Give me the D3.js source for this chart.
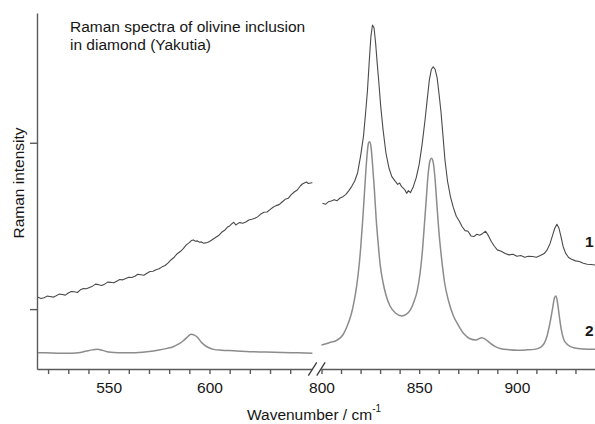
<!DOCTYPE html>
<html>
<head>
<meta charset="utf-8">
<script src="https://cdn.jsdelivr.net/npm/d3@7"></script>
<style>
  body { margin: 0; background: #fff; }
  svg text { font-family: Arial, "Liberation Sans", sans-serif; fill: #161616; }
  .axis path, .axis line { stroke: #5a5a5a; stroke-width: 1.4; }
  .axis text { font-size: 15.5px; }
</style>
</head>
<body>
<svg id="chart"></svg>
<script>
// spectrum 1 (upper, noisy) - low wavenumber part
const spec1LowWn = [515,516.5,518,519.5,521,522.5,524,525.5,527,528.5,530,531.5,533,534.5,536,537.5,539,540.5,542,543.5,545,546.5,548,549.5,551,552.5,554,555.5,557,558.5,560,561.5,563,564.5,566,567.5,569,570.5,572,573.5,575,576.5,578,579.5,581,582.5,584,585.5,587,588.5,590,591,592,593,594,595,596,597,598,599,600,601.5,603,604.5,606,607.5,609,610,611,612,613,614,615,616.5,618,619.5,621,622.5,624,625.5,627,628.5,630,631.5,633,634.5,636,637.5,639,640.5,642,643.5,645,646,647,648,649,650,651];
const spec1LowI = [1071,1064,1068,1078,1076,1072,1080,1090,1088,1084,1097,1106,1104,1100,1116,1124,1122,1130,1138,1150,1147,1142,1150,1162,1161,1158,1168,1178,1176,1184,1192,1190,1198,1210,1207,1204,1216,1226,1228,1236,1243,1254,1262,1278,1297,1312,1333,1346,1364,1386,1400,1412,1416,1408,1410,1402,1404,1396,1398,1400,1406,1418,1430,1442,1462,1474,1494,1500,1512,1522,1506,1514,1520,1516,1524,1536,1540,1546,1556,1572,1582,1584,1598,1612,1622,1628,1644,1660,1666,1688,1704,1716,1740,1752,1758,1764,1755,1758,1760];

// spectrum 1 - high wavenumber part
const spec1HighWn = [800.5,802,803.5,805,806.5,808,809.5,811,812.5,814,815.5,817,818.5,820,821.5,822.5,823.5,824.5,825.3,826.1,826.9,827.7,828.5,829.3,830.3,831.5,833,834.5,836,837.5,839,840,841,842.5,843.6,844.5,845.5,847,848.5,850,851.5,853,854.2,855.2,856.2,857.2,858.2,859.2,860.2,861.2,862.2,863.2,864.5,866,867.5,869,870.5,872,873.5,875,876.5,878,879.5,881,882.5,884,885.5,887,888.5,890,892,894,896,898,900,902,904,906,908,910,912,914,915.5,917,918.2,919.4,920.5,921.5,922.5,923.7,925,926.5,928,930,932,934,936,938,940];
const spec1HighI = [1636,1630,1645,1650,1658,1652,1668,1676,1690,1712,1738,1770,1820,1920,2040,2170,2310,2500,2640,2708,2690,2600,2480,2370,2220,2080,1937,1850,1796,1772,1750,1758,1736,1720,1696,1712,1700,1736,1790,1870,1990,2137,2270,2377,2440,2457,2440,2390,2290,2180,2040,1896,1770,1676,1610,1558,1530,1495,1472,1468,1440,1436,1450,1444,1455,1468,1440,1405,1378,1356,1348,1334,1326,1330,1318,1322,1312,1318,1316,1312,1322,1334,1356,1395,1440,1486,1510,1488,1440,1375,1335,1310,1300,1290,1286,1276,1270,1268,1265];

// spectrum 2 (lower, smooth)
const spec2LowWn = [515,522,529,535,539,542,544.5,547,550,555,562,569,575,579,582,585,587,589,590.8,592.5,594,596,597.5,600,602,606,612,620,628,636,644,651];
const spec2LowI = [738,736,734,738,748,755,758,752,742,738,738,744,754,764,774,792,810,832,849,844,831,800,784,766,758,753,750,744,742,739,737,734];

const spec2HighWn = [800,804,808,811,813,815,816.5,818,819,820,821,822,823,824,824.6,825.3,826,827,828,829,830,831.5,833,835,838,841,843.5,845.5,847.5,849,850.5,851.5,852.5,853.5,854.5,855.5,856.3,857.2,858,859,860,861.5,863,865,867.5,870,873,876,879,882,884,886.5,889,892,896,900,905,909,912,914,915.5,917,918.3,919.3,920,920.8,921.7,922.7,924,926,929,934,940];
const spec2HighI = [784,798,814,846,894,960,1035,1140,1235,1360,1520,1700,1880,1995,2006,1980,1890,1730,1540,1396,1270,1160,1085,1020,975,959,970,995,1050,1110,1220,1330,1480,1640,1800,1890,1907,1880,1800,1640,1480,1300,1160,1050,960,904,850,822,815,828,818,794,775,762,756,753,755,758,770,794,840,920,1005,1070,1079,1040,960,880,818,786,768,760,758];

// axis ticks
const lowTicks = [520,530,540,550,560,570,580,590,600,610,620,630,640];
const highTicks = [800,810,820,830,840,850,860,870,880,890,900,910,920,930];
const yTicks = [1000, 2000];
const seriesLabels = ['1', '2'];

const titleLines = ['Raman spectra of olivine inclusion', 'in diamond (Yakutia)'];

const width = 595, height = 424;
const svg = d3.select('#chart').attr('width', width).attr('height', height);

// two x scales for the broken axis
const xLow = d3.scaleLinear().domain([514.5, 650.8]).range([37, 312]);
const xHigh = d3.scaleLinear().domain([800, 940]).range([321.5, 595]);
const y = d3.scaleLinear().domain([640, 2780]).range([369, 13]);

const fmt = d => d % 50 === 0 ? d : '';

svg.append('g')
    .attr('class', 'axis')
    .attr('transform', `translate(0,${y.range()[0]})`)
    .call(d3.axisBottom(xLow).tickValues(lowTicks).tickFormat(fmt)
        .tickSize(5).tickSizeOuter(0).tickPadding(8));

svg.append('g')
    .attr('class', 'axis')
    .attr('transform', `translate(0,${y.range()[0]})`)
    .call(d3.axisBottom(xHigh).tickValues(highTicks).tickFormat(fmt)
        .tickSize(5).tickSizeOuter(0).tickPadding(8));

svg.append('g')
    .attr('class', 'axis')
    .attr('transform', `translate(${xLow.range()[0]},0)`)
    .call(d3.axisLeft(y).tickValues(yTicks).tickFormat('')
        .tickSize(7).tickSizeOuter(0));

// break marks on the x axis
const breakX = (xLow.range()[1] + xHigh.range()[0]) / 2;
const y0 = y.range()[0];
[-4.2, 4.2].forEach(off => {
  svg.append('line')
      .attr('x1', breakX + off - 4.2).attr('y1', y0 + 6.7)
      .attr('x2', breakX + off + 4.2).attr('y2', y0 - 6.7)
      .attr('stroke', '#3a3a3a')
      .attr('stroke-width', 1.3);
});

// spectra
function drawSegment(wn, vals, xs, color, sw, curve) {
  const pts = wn.map((w, i) => [w, vals[i]]);
  svg.append('path')
      .datum(pts)
      .attr('fill', 'none')
      .attr('stroke', color)
      .attr('stroke-width', sw)
      .attr('stroke-linejoin', 'round')
      .attr('d', d3.line()
          .curve(curve)
          .x(d => xs(d[0]))
          .y(d => y(d[1])));
}

drawSegment(spec2LowWn, spec2LowI, xLow, '#8c8c8c', 1.5, d3.curveMonotoneX);
drawSegment(spec2HighWn, spec2HighI, xHigh, '#8c8c8c', 1.5, d3.curveMonotoneX);
drawSegment(spec1LowWn, spec1LowI, xLow, '#4a4a4a', 1.1, d3.curveLinear);
drawSegment(spec1HighWn, spec1HighI, xHigh, '#4a4a4a', 1.1, d3.curveLinear);

// curve numbers at the right edge
svg.append('text')
    .attr('x', 585)
    .attr('y', y(spec1HighI[spec1HighI.length - 1]) - 18)
    .style('font-size', '15.5px')
    .style('font-weight', 'bold')
    .text(seriesLabels[0]);
svg.append('text')
    .attr('x', 585)
    .attr('y', y(spec2HighI[spec2HighI.length - 1]) - 13)
    .style('font-size', '15.5px')
    .style('font-weight', 'bold')
    .text(seriesLabels[1]);

// title
const title = svg.append('text')
    .attr('x', 70)
    .attr('y', 31.5)
    .style('font-size', '15.5px');
titleLines.forEach((t, i) => {
  title.append('tspan')
      .attr('x', 70)
      .attr('dy', i === 0 ? 0 : 18)
      .text(t);
});

// axis titles
svg.append('text')
    .attr('transform', 'translate(23.5,183) rotate(-90)')
    .style('text-anchor', 'middle')
    .style('font-size', '15.5px')
    .text('Raman intensity');

const xTitle = svg.append('text')
    .attr('x', 314)
    .attr('y', 420)
    .style('text-anchor', 'middle')
    .style('font-size', '15.5px');
xTitle.append('tspan').text('Wavenumber / cm');
xTitle.append('tspan').attr('dy', -8).style('font-size', '10px').text('-1');
</script>
</body>
</html>
